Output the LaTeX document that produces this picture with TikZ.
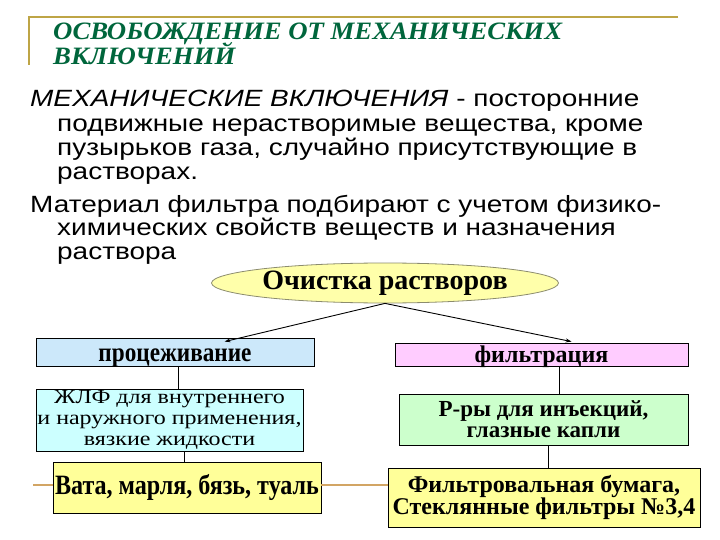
\documentclass[tikz,border=0pt]{standalone}
\usepackage{fontspec}
\setmainfont{Liberation Serif}
\newfontfamily\arialw[FakeStretch=1.19]{Liberation Sans}
\newfontfamily\serifn[FakeStretch=0.86]{Liberation Serif}
\newfontfamily\serifw[FakeStretch=1.2]{Liberation Serif}
\newfontfamily\serift[FakeStretch=1.07]{Liberation Serif}
\usetikzlibrary{shapes.geometric,arrows.meta,calc}
\definecolor{titlegreen}{RGB}{0,102,60}
\definecolor{goldline}{RGB}{190,165,70}
\definecolor{tanline}{RGB}{210,165,100}
\definecolor{boxblue}{RGB}{204,232,250}
\definecolor{boxpink}{RGB}{255,204,255}
\definecolor{boxcyan}{RGB}{204,255,255}
\definecolor{boxgreen}{RGB}{204,255,204}
\definecolor{boxyellow}{RGB}{255,255,153}
\definecolor{ellfill}{RGB}{255,255,170}
\definecolor{elldraw}{RGB}{140,140,110}
\tikzset{
  bodyline/.style={anchor=base west, inner sep=0pt, font=\arialw\fontsize{23.5}{24}\selectfont},
  titleline/.style={anchor=base west, inner sep=0pt, text=titlegreen, font=\serift\fontsize{25}{26}\selectfont\bfseries\itshape},
  cbox/.style={draw=black, line width=0.8pt, inner sep=0pt, align=center},
  conn/.style={draw=black, line width=0.5pt},
  arr/.style={draw=black, line width=0.9pt, -{Stealth[length=6pt,width=4pt]}}
}
\begin{document}
\begin{tikzpicture}[x=1pt,y=-1pt]
\useasboundingbox[fill=white] (0,0) rectangle (720,540);
% title frame
\coordinate (tl) at (29,17);
\coordinate (tr) at (678,17);
\coordinate (tb) at (29,65);
\draw[goldline, line width=1.5pt] (tr) -- (tl) -- (tb);
\node[titleline] (t1) at (53,40) {ОСВОБОЖДЕНИЕ ОТ МЕХАНИЧЕСКИХ};
\node[titleline] (t2) at (53,65) {ВКЛЮЧЕНИЙ};
% body text
\node[bodyline] (b1) at (30,107) {\itshape МЕХАНИЧЕСКИЕ ВКЛЮЧЕНИЯ\upshape\ - посторонние};
\node[bodyline] (b2) at (57,132) {подвижные нерастворимые вещества, кроме};
\node[bodyline] (b3) at (57,156) {пузырьков газа, случайно присутствующие в};
\node[bodyline] (b4) at (57,180) {растворах.};
\node[bodyline] (b5) at (30,212) {Материал фильтра подбирают с учетом физико-};
\node[bodyline] (b6) at (57,236) {химических свойств веществ и назначения};
\node[bodyline] (b7) at (57,259) {раствора};
% ellipse
\node[ellipse, draw=elldraw, fill=ellfill, line width=0.8pt, minimum width=336, minimum height=40, inner sep=0pt,
      font=\fontsize{28}{30}\selectfont\bfseries] (ell) at (385,283) {Очистка растворов};
% boxes
\node[cbox, fill=boxblue, minimum width=278, minimum height=28, text height=20pt, text depth=2pt, font=\serifn\fontsize{27}{28}\selectfont\bfseries] (proc) at (175,352) {процеживание};
\node[cbox, fill=boxpink, minimum width=293, minimum height=23, text height=17pt, text depth=2pt, font=\fontsize{24}{24}\selectfont\bfseries] (filt) at (541.5,354.5) {фильтрация};
\node[cbox, fill=boxcyan, minimum width=267, minimum height=62, font=\serifw\fontsize{20}{20.8}\selectfont] (zhlf) at (169.5,420) {ЖЛФ для внутреннего\\и наружного применения,\\вязкие жидкости};
\node[cbox, fill=boxgreen, minimum width=289, minimum height=51, font=\fontsize{23}{21}\selectfont\bfseries] (rry) at (543.5,419.5) {Р-ры для инъекций,\\глазные капли};
\node[cbox, fill=boxyellow, minimum width=268, minimum height=51, font=\serifn\fontsize{28}{28}\selectfont\bfseries] (vata) at (187,487.5) {Вата, марля, бязь, туаль};
\node[cbox, fill=boxyellow, minimum width=312, minimum height=59, font=\fontsize{24}{22.7}\selectfont\bfseries] (fb) at (544,497.5) {Фильтровальная бумага,\\Стеклянные фильтры №3,4};
% connectors
\coordinate (x1) at (178,0);
\coordinate (x2) at (184,0);
\coordinate (x3) at (559,0);
\coordinate (x4) at (548,0);
\draw[conn] (proc.south -| x1) -- (zhlf.north -| x1);
\draw[conn] (zhlf.south -| x2) -- (vata.north -| x2);
\draw[conn] (filt.south -| x3) -- (rry.north -| x3);
\draw[conn] (rry.south -| x4) -- (fb.north -| x4);
\coordinate (gl) at (33,485);
\draw[tanline, line width=1.5pt] (gl) -- (gl -| vata.west);
\draw[tanline, line width=1.5pt] (gl -| vata.east) -- (gl -| fb.west);
% arrows
\coordinate (a1) at ($(proc.north west)+(189,4)$);
\coordinate (a2) at ($(filt.north west)+(177,-1)$);
\draw[arr] (ell.south) -- (a1);
\draw[arr] (ell.south) -- (a2);
\end{tikzpicture}
\end{document}
